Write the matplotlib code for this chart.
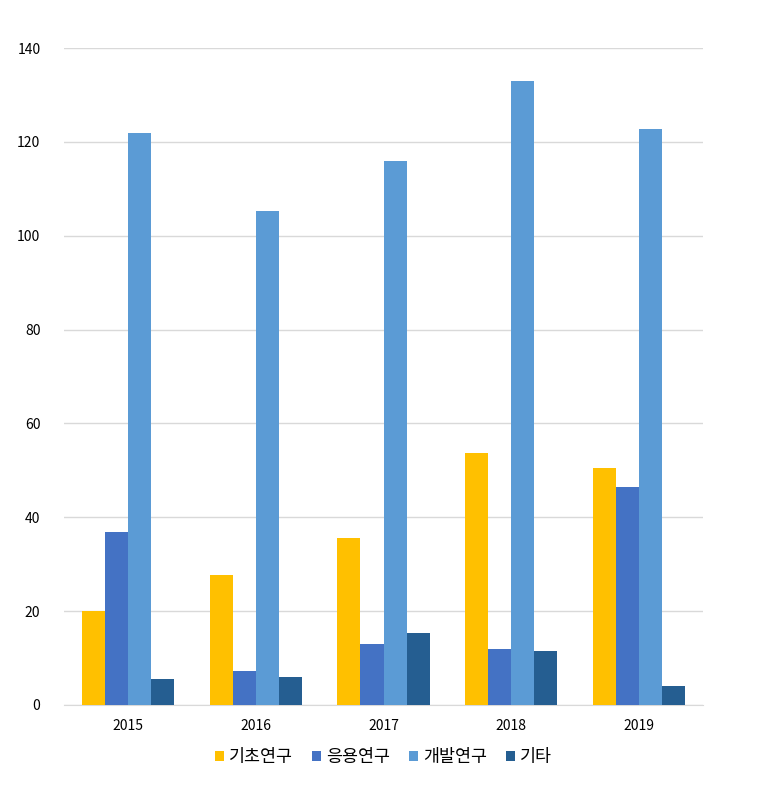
import matplotlib
matplotlib.use("Agg")
import matplotlib.pyplot as plt
import numpy as np

plt.rcParams['font.family'] = ['Noto Sans CJK KR', 'DejaVu Sans']

years = ["2015", "2016", "2017", "2018", "2019"]
labels = ["기초연구", "응용연구", "개발연구", "기타"]
basic = [20.0, 27.7, 35.6, 53.7, 50.5]
applied = [36.9, 7.2, 13.0, 11.9, 46.5]
develop = [121.9, 105.3, 115.9, 133.0, 122.7]
other = [5.5, 6.0, 15.3, 11.5, 4.0]
colors = ["#FFC000", "#4472C4", "#5B9BD5", "#255E91"]

fig = plt.figure(figsize=(7.77, 8), dpi=100)
ax = fig.add_axes([64/777, 1 - 705/800, 639/777, (705 - 48)/800])

x = np.arange(len(years))
w = 0.18
series = [basic, applied, develop, other]
for i, s in enumerate(series):
    ax.bar(x + (i - 1.5) * w, s, w, color=colors[i], label=labels[i], zorder=3)

ax.set_xlim(-0.5, len(years) - 0.5)
ax.set_ylim(0, 140)
ax.set_yticks(np.arange(0, 141, 20))
ax.set_xticks(x, years)
ax.grid(axis="y", color="#D9D9D9", linewidth=1, zorder=0)
for sp in ["top", "right", "left"]:
    ax.spines[sp].set_visible(False)
ax.spines["bottom"].set_color("#D9D9D9")
ax.tick_params(axis="both", length=0, labelsize=10, colors="#000000")
ax.tick_params(axis="y", pad=17)
ax.tick_params(axis="x", pad=10)

ax.legend(loc="upper center", bbox_to_anchor=(0.5, -0.042), ncol=4, frameon=False,
          fontsize=12.5, handlelength=0.5, handleheight=0.5, handletextpad=0.3,
          columnspacing=1.1)

fig.savefig("out.png", dpi=100)
